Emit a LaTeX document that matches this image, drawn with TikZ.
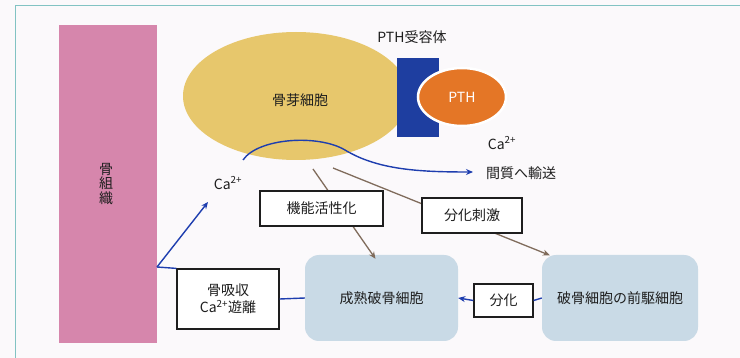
\documentclass[tikz,border=0pt]{standalone}
\usepackage{fontspec}
\setmainfont{Noto Sans CJK JP}
\usetikzlibrary{arrows.meta,shapes.geometric,calc}
\definecolor{bgc}{RGB}{251,249,251}
\definecolor{framec}{RGB}{130,195,195}
\definecolor{pinkb}{RGB}{214,134,172}
\definecolor{yellowc}{RGB}{231,199,108}
\definecolor{recblue}{RGB}{30,62,160}
\definecolor{pthorange}{RGB}{228,118,38}
\definecolor{cellblue}{RGB}{201,218,230}
\definecolor{arrowblue}{RGB}{30,62,175}
\definecolor{brownc}{RGB}{128,108,92}
\definecolor{txt}{RGB}{30,30,30}
\tikzset{
  lbl/.style={text=txt,font=\fontsize{14}{15}\selectfont,inner sep=0pt},
  wbox/.style={draw=txt,line width=1.2pt,fill=white,text=txt,font=\fontsize{14}{17}\selectfont,align=center,inner sep=0pt},
  cell/.style={fill=cellblue,rounded corners=14pt,text=txt,font=\fontsize{14}{16}\selectfont,inner sep=0pt},
  barrow/.style={draw=arrowblue,line width=1.4pt,-{Stealth[length=7pt,width=6pt]}},
  bline/.style={draw=arrowblue,line width=1.4pt},
  brarrow/.style={draw=brownc,line width=1.3pt,-{Stealth[length=7pt,width=6pt]}}
}
\begin{document}
\begin{tikzpicture}[x=1pt,y=-1pt]
\fill[bgc] (0,0) rectangle (740,358);
\useasboundingbox (0,0) rectangle (740,358);
\draw[framec,line width=0.9pt] (15,358) -- (15,5) -- (740,5);

% bone tissue
\node[fill=pinkb,minimum width=98pt,minimum height=318pt,inner sep=0pt] (bone) at (108,184) {};
\node[lbl,align=center,font=\fontsize{14}{14.5}\selectfont] (bonetxt) at (106,184) {骨\\組\\織};

% osteoblast
\node[ellipse,fill=yellowc,minimum width=226pt,minimum height=128pt,inner sep=0pt] (ob) at (296,96) {};
\node[lbl] (obtxt) at (300,100) {骨芽細胞};
\node[fill=recblue,minimum width=42pt,minimum height=79pt,inner sep=0pt] (rec) at (418,97.5) {};
\node[lbl] (rectxt) at (412,37) {PTH受容体};
\node[ellipse,fill=pthorange,draw=white,line width=2.5pt,minimum width=88pt,minimum height=58pt,inner sep=0pt,text=white,font=\fontsize{14}{15}\selectfont] (pth) at (462,97) {PTH};

\node[lbl] (caR) at (502,143) {Ca\textsuperscript{2+}};
\node[lbl] (trans) at (521,173) {間質へ輸送};
\node[lbl] (caL) at (228,183) {Ca\textsuperscript{2+}};

% coordinates
\coordinate (c1) at (243,160);
\coordinate (c2) at (473,172);
\coordinate (b1s) at (313,169);
\coordinate (b2s) at (333,168);
\coordinate (j) at (157,267);
\coordinate (catip) at (208,202);

% cells
\node[cell,minimum width=153pt,minimum height=86pt] (mature) at (381.5,298) {成熟破骨細胞};
\node[cell,minimum width=156pt,minimum height=86pt] (pre) at (620,298) {破骨細胞の前駆細胞};
\coordinate (b1e) at ($(mature.north)+(-6,4)$);
\coordinate (b2e) at ($(pre.north west)+(8,0.5)$);

% brown arrows
\draw[brarrow] (b1s) -- (b1e);
\draw[brarrow] (b2s) -- (b2e);

% boxes
\node[wbox,minimum width=123pt,minimum height=35pt] (func) at (321.5,208.5) {機能活性化};
\node[wbox,minimum width=100pt,minimum height=35pt] (stim) at (472,215.5) {分化刺激};
\node[wbox,minimum width=102pt,minimum height=60pt] (res) at (228,299) {骨吸収\\Ca\textsuperscript{2+}遊離};
\node[wbox,minimum width=59pt,minimum height=33pt] (diff) at (503.5,300.5) {分化};

% blue connectors
\draw[barrow] (c1) .. controls (258,138) and (318,134) .. (345,150) .. controls (378,170) and (420,172) .. (c2);
\draw[bline] (res.north west) -- (j);
\draw[barrow] (j) -- (catip);
\draw[bline] (res.east) -- (mature.west);
\draw[bline] (pre.west) -- (diff.east);
\draw[barrow] (diff.west) -- (mature.east);
\end{tikzpicture}
\end{document}
